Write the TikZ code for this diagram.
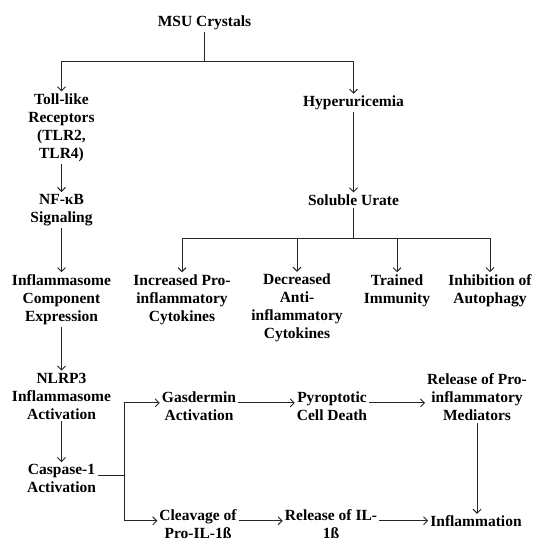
\documentclass[tikz,border=0pt]{standalone}
\usepackage{fontspec}
\setmainfont{Liberation Serif}
\usetikzlibrary{arrows.meta,calc}
\begin{document}
\begin{tikzpicture}[x=1pt,y=-1pt,
  lbl/.style={font=\bfseries\fontsize{15.5}{18}\selectfont, align=center, inner sep=2pt, text=black},
  con/.style={draw=black!85, line width=0.9pt},
  arr/.style={con, -{Straight Barb[length=4pt,width=8pt]}}]
\useasboundingbox (0,0) rectangle (537,541);
% nodes
\node[lbl] (msu)  at (204.5,23)   {MSU Crystals};
\node[lbl] (tlr)  at (61.5,127.5) {Toll-like\\Receptors\\(TLR2,\\TLR4)};
\node[lbl] (nfkb) at (61.5,210)   {NF-κB\\Signaling};
\node[lbl] (hyp)  at (353.5,103)  {Hyperuricemia};
\node[lbl] (su)   at (353.5,200)  {Soluble Urate};
\node[lbl] (ice)  at (61.5,299.5) {Inflammasome\\Component\\Expression};
\node[lbl] (ipc)  at (182,299.5)  {Increased Pro-\\inflammatory\\Cytokines};
\node[lbl] (dac)  at (297,308)    {Decreased\\Anti-\\inflammatory\\Cytokines};
\node[lbl] (ti)   at (397,290.5)  {Trained\\Immunity};
\node[lbl] (ioa)  at (490,290.5)  {Inhibition of\\Autophagy};
\node[lbl] (nlrp) at (61.5,396)   {NLRP3\\Inflammasome\\Activation};
\node[lbl] (casp) at (61.5,478.5) {Caspase-1\\Activation};
\node[lbl] (gas)  at (199,406)    {Gasdermin\\Activation};
\node[lbl] (clv)  at (198,524)    {Cleavage of\\Pro-IL-1ß};
\node[lbl] (pyro) at (332,406)    {Pyroptotic\\Cell Death};
\node[lbl] (rpm)  at (477,397.5)  {Release of Pro-\\inflammatory\\Mediators};
\node[lbl] (ril)  at (331,524)    {Release of IL-\\1ß};
\node[lbl] (infl) at (476,521.5)  {Inflammation};
% junctions
\coordinate (j1) at (204.5,61);
\coordinate (j2) at (353.5,238);
\coordinate (cs) at ($(casp.north east)+(0,13.5)$);
\coordinate (j3) at ($(cs)+(26,0)$);
\coordinate (gw) at ($(gas.north west)+(0,13.5)$);
\coordinate (ge) at ($(gas.north east)+(0,13.5)$);
\coordinate (pw) at ($(pyro.north west)+(0,13.5)$);
\coordinate (pe) at ($(pyro.north east)+(0,13.5)$);
\coordinate (cw) at ($(clv.north west)+(0,13.5)$);
\coordinate (ce) at ($(clv.north east)+(0,13.5)$);
\coordinate (rw) at ($(ril.north west)+(0,13.5)$);
\coordinate (re) at ($(ril.north east)+(0,13.5)$);
% connectors
\draw[con] (msu) -- (j1);
\draw[arr] (j1) -| (tlr);
\draw[arr] (j1) -| (hyp);
\draw[arr] (tlr) -- (nfkb);
\draw[arr] (nfkb) -- (ice);
\draw[arr] (hyp) -- (su);
\draw[con] (su) -- (j2);
\draw[arr] (j2) -| (ipc);
\draw[arr] (j2) -| (dac);
\draw[arr] (j2) -| (ti);
\draw[arr] (j2) -| (ioa);
\draw[arr] (ice) -- (nlrp);
\draw[arr] (nlrp) -- (casp);
\draw[con] (cs) -- (j3);
\draw[arr] (j3) |- (gw);
\draw[arr] (j3) |- (cw);
\draw[arr] (ge) -- (pw);
\draw[arr] (pe) -- (pe -| rpm.west);
\draw[arr] (rpm.south) -- (rpm.south |- infl.north);
\draw[arr] (ce) -- (rw);
\draw[arr] (re) -- (re -| infl.west);
\end{tikzpicture}
\end{document}
